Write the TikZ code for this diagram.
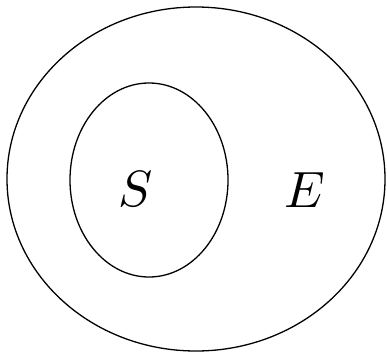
\documentclass[tikz,border=0pt]{standalone}
\usepackage{amsmath,amssymb}
\usepackage{tikz}
\usetikzlibrary{positioning}

\begin{document}
\begin{tikzpicture}[x=1pt,y=-1pt,set/.style={draw,line width=1.3pt},
  lab/.style={scale=5.1}]
\useasboundingbox (0,0) rectangle (387,353);
% outer set E and inner set S
\draw[set] (196,179) ellipse [x radius=189,y radius=172];
\draw[set] (149,180) ellipse [x radius=79,y radius=97];
\node[lab] (S) at (136,189) {$S$};
\node[lab] (E) at (305,190) {$E$};
\end{tikzpicture}
\end{document}
